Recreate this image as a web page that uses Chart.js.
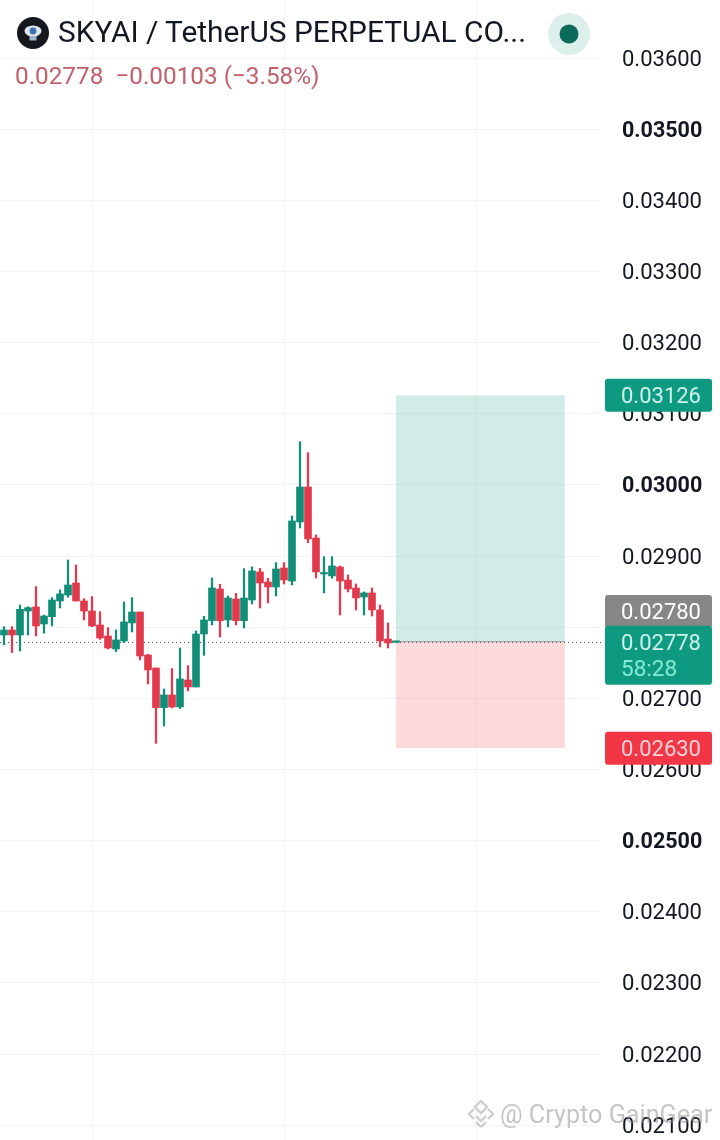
<!DOCTYPE html>
<html>
<head>
<meta charset="utf-8">
<script src="https://cdn.jsdelivr.net/npm/chart.js@4/dist/chart.umd.min.js"></script>
<style>
html,body{margin:0;padding:0;background:#fff;width:720px;height:1140px;overflow:hidden}
#wrap{position:relative;width:720px;height:1140px;font-family:Roboto,sans-serif}
canvas{position:absolute;left:0;top:0}
.t{position:absolute;white-space:pre;line-height:1}
#title{left:58px;top:17px;font-size:29.85px;color:#131722}
#sub{left:15px;top:64px;font-size:24.3px;color:#C4606A}
#wm{left:500px;top:1102px;font-size:25.2px;color:rgba(150,150,150,.55)}
svg{position:absolute}
</style>
</head>
<body>
<div id="wrap">
<canvas id="c" width="720" height="1140"></canvas>
<svg style="left:17px;top:17px" width="32" height="32" viewBox="0 0 32 32">
  <circle cx="16" cy="16" r="16" fill="#15171f"/>
  <ellipse cx="16" cy="14" rx="8.5" ry="5.5" fill="#dfe6f0"/>
  <circle cx="16" cy="14" r="3.4" fill="#3f6fb0"/>
  <rect x="12.5" y="19" width="7" height="4.5" fill="#9fb2cc"/>
</svg>
<svg style="left:548px;top:13px" width="42" height="42" viewBox="0 0 42 42">
  <circle cx="21" cy="21" r="21" fill="#DCEFEB"/>
  <circle cx="21" cy="21" r="9.5" fill="#0B6B5B"/>
</svg>
<div class="t" id="title">SKYAI / TetherUS PERPETUAL CO...</div>
<div class="t" id="sub">0.02778  −0.00103 (−3.58%)</div>
<svg style="left:466px;top:1099px" width="30" height="30" viewBox="0 0 30 30" fill="none" stroke="rgba(165,165,165,.55)" stroke-width="2.4">
  <path d="M15 2 L21 8 L15 14 L9 8 Z"/>
  <path d="M8 10 L3 15 L8 20"/>
  <path d="M22 10 L27 15 L22 20"/>
  <path d="M10 17 L15 22 L20 17"/>
  <path d="M15 28 L20 23 M15 28 L10 23"/>
</svg>
<div class="t" id="wm">@ Crypto GainGear</div>
</div>
<script>
const opens  = [0.027891,0.027961,0.027891,0.028228,0.028285,0.028046,0.028149,0.028369,0.028453,0.028622,0.028369,0.028228,0.028032,0.027877,0.027694,0.027807,0.028060,0.028214,0.027610,0.027427,0.026870,0.027048,0.026879,0.027258,0.027160,0.027905,0.028093,0.028538,0.028102,0.028397,0.028093,0.028383,0.028777,0.028636,0.028566,0.028833,0.028650,0.029480,0.029972,0.029255,0.028749,0.028721,0.028847,0.028664,0.028552,0.028425,0.028482,0.028243,0.027835,0.027788];
const highs  = [0.028008,0.028008,0.028313,0.028289,0.028571,0.028172,0.028416,0.028524,0.028945,0.028875,0.028402,0.028430,0.028219,0.027994,0.027961,0.028355,0.028416,0.028214,0.027619,0.027427,0.027132,0.027418,0.027708,0.027460,0.027947,0.028154,0.028692,0.028603,0.028439,0.028477,0.028824,0.028847,0.028828,0.028688,0.028908,0.028908,0.029564,0.030609,0.030454,0.029297,0.028992,0.028992,0.028861,0.028735,0.028608,0.028496,0.028552,0.028313,0.028060,0.027797];
const lows   = [0.027751,0.027643,0.027666,0.027891,0.027877,0.027915,0.028018,0.028271,0.028421,0.028369,0.028102,0.028008,0.027830,0.027694,0.027657,0.027783,0.027933,0.027540,0.027202,0.026368,0.026612,0.026865,0.026856,0.027104,0.027160,0.027605,0.028032,0.027863,0.028004,0.028032,0.027990,0.028327,0.028271,0.028341,0.028439,0.028608,0.028594,0.029395,0.029189,0.028692,0.028482,0.028688,0.028172,0.028496,0.028243,0.028172,0.028158,0.027722,0.027708,0.027788];
const closes = [0.027961,0.027891,0.028252,0.028275,0.028018,0.028158,0.028383,0.028468,0.028594,0.028369,0.028228,0.028018,0.027849,0.027708,0.027821,0.028074,0.028214,0.027596,0.027399,0.026870,0.027048,0.026879,0.027273,0.027160,0.027905,0.028102,0.028552,0.028093,0.028411,0.028093,0.028411,0.028791,0.028622,0.028566,0.028819,0.028664,0.029494,0.029972,0.029241,0.028777,0.028763,0.028861,0.028650,0.028538,0.028411,0.028482,0.028243,0.027807,0.027779,0.027797];
const categories = Array.from({length:75},(_,i)=>String(i));
const yTicks = [0.036,0.035,0.034,0.033,0.032,0.031,0.030,0.029,0.028,0.027,0.026,0.025,0.024,0.023,0.022,0.021];
const boldTicks = [0.035,0.030,0.025];
const xGrid = [11,35,59];
const lastPrice = 0.02778, entryPrice = 0.0278, targetPrice = 0.03126, stopPrice = 0.0263;
const zoneStart = 49, zoneEnd = 70.1;

const UP = '#118D78', DOWN = '#E03B4D', GRID = '#F3F4F6';
const col = closes.map((c,i)=> c>=opens[i] ? UP : DOWN);

function roundRect(ctx,x,y,w,h,r){ctx.beginPath();ctx.roundRect(x,y,w,h,r);ctx.fill();}

const overlays = {
  id:'overlays',
  afterLayout(ch){
    const s = ch.scales.y, base = Object.getPrototypeOf(s).drawLabels || Chart.Scale.prototype.drawLabels;
    s.drawLabels = function(a){ const c=this.ctx; c.save(); c.translate(0,2); base.call(this,a); c.restore(); };
  },
  beforeDatasetsDraw(ch){
    const {ctx,chartArea:a,scales:{x,y}} = ch;
    const l = x.getPixelForValue(zoneStart), r = x.getPixelForValue(zoneEnd);
    const yT = y.getPixelForValue(targetPrice), yE = y.getPixelForValue(entryPrice), yS = y.getPixelForValue(stopPrice);
    ctx.save();
    ctx.fillStyle='rgba(8,153,129,0.19)'; ctx.fillRect(l,yT,r-l,yE-yT);
    ctx.fillStyle='rgba(242,54,69,0.19)'; ctx.fillRect(l,yE,r-l,yS-yE);
    const yL = Math.round(y.getPixelForValue(lastPrice))-0.5;
    ctx.strokeStyle='#4d5560'; ctx.lineWidth=1; ctx.setLineDash([1,3]);
    ctx.beginPath(); ctx.moveTo(0,yL); ctx.lineTo(a.right+3,yL); ctx.stroke();
    ctx.setLineDash([]); ctx.strokeStyle='rgba(90,110,105,.55)';
    ctx.beginPath(); ctx.moveTo(l,yE); ctx.lineTo(r,yE); ctx.stroke();
    ctx.restore();
  },
  afterDraw(ch){
    const {ctx,scales:{y}} = ch;
    const X=605,W=107,TX=621;
    ctx.save();
    ctx.textBaseline='middle'; ctx.textAlign='left'; ctx.font='22px Roboto';
    const yT=y.getPixelForValue(targetPrice), yS=y.getPixelForValue(stopPrice), yL=y.getPixelForValue(lastPrice), yE=y.getPixelForValue(entryPrice);
    ctx.fillStyle='#0E9981'; roundRect(ctx,X,yT-16.5,W,33,3);
    ctx.fillStyle='#CDF3EA'; ctx.fillText(targetPrice.toFixed(5),TX,yT+2.5);
    ctx.fillStyle='#878787'; roundRect(ctx,X,yE-46.5,W,33,3);
    ctx.fillStyle='#FFFFFF'; ctx.fillText(entryPrice.toFixed(5),TX,yE-28);
    ctx.fillStyle='#0E9981'; roundRect(ctx,X,yL-17,W,59,3);
    ctx.fillStyle='#CDF3EA'; ctx.fillText(lastPrice.toFixed(5),TX,yL+2);
    ctx.fillStyle='#85EAD3'; ctx.font='22.5px Roboto'; ctx.fillText('58:28',TX,yL+28);
    ctx.font='22px Roboto';
    ctx.fillStyle='#F23645'; roundRect(ctx,X,yS-16.5,W,33,3);
    ctx.fillStyle='#FBD3D7'; ctx.fillText(stopPrice.toFixed(5),TX,yS+2.5);
    ctx.restore();
  }
};

new Chart(document.getElementById('c'),{
  type:'bar',
  plugins:[overlays],
  data:{
    labels:categories,
    datasets:[
      {label:'Wicks',data:lows.map((l,i)=>[l,highs[i]]),backgroundColor:col,barThickness:1.6,grouped:false,order:2,borderSkipped:false},
      {label:'Bodies',data:opens.map((o,i)=>[o,closes[i]]),backgroundColor:col,barThickness:7,minBarLength:1.5,grouped:false,order:1,borderSkipped:false}
    ]
  },
  options:{
    responsive:false,animation:false,devicePixelRatio:1,
    layout:{padding:0},
    plugins:{legend:{display:false},tooltip:{enabled:false},title:{display:false}},
    scales:{
      x:{
        type:'category',offset:true,
        border:{display:false},
        grid:{color:GRID,offset:false,drawTicks:false,lineWidth:1},
        ticks:{display:false,autoSkip:false},
        afterBuildTicks(s){s.ticks=xGrid.map(v=>({value:v}));},
        afterFit(s){s.height=0;s.paddingLeft=0;s.paddingRight=0;}
      },
      y:{
        type:'linear',position:'right',min:0.020791,max:0.036818,
        border:{display:false},
        grid:{color:GRID,drawTicks:false,lineWidth:1},
        afterBuildTicks(s){s.ticks=yTicks.map(v=>({value:v}));},
        afterFit(s){s.width=120;s.paddingTop=0;s.paddingBottom=0;},
        ticks:{
          align:'center',crossAlign:'near',padding:22,color:'#131722',autoSkip:false,
          font(c){const b=boldTicks.includes(c.tick&&c.tick.value);return {family:'Roboto',size:b?21.5:22,weight:b?'bold':'normal'};},
          callback(v){return Number(v).toFixed(5);}
        }
      }
    }
  }
});
</script>
</body>
</html>
